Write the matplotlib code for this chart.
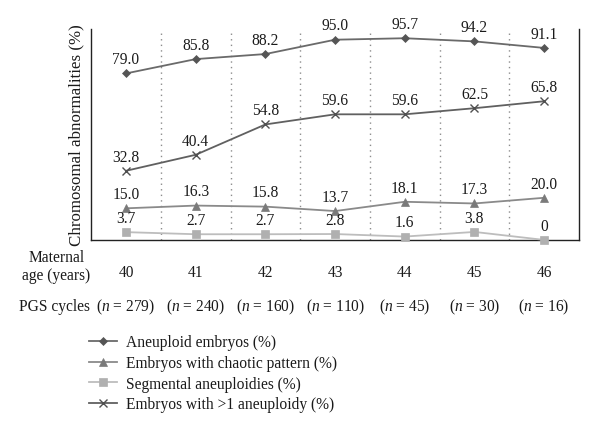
import matplotlib
matplotlib.use("Agg")
import matplotlib.pyplot as plt
from matplotlib.lines import Line2D

plt.rcParams['font.family'] = ['Liberation Serif', 'DejaVu Serif']
plt.rcParams['mathtext.fontset'] = 'custom'
plt.rcParams['mathtext.it'] = 'Liberation Serif:italic'
plt.rcParams['mathtext.rm'] = 'Liberation Serif'

ages = [40, 41, 42, 43, 44, 45, 46]
cycles = [279, 240, 160, 110, 45, 30, 16]
aneuploid = [79.0, 85.8, 88.2, 95.0, 95.7, 94.2, 91.1]
chaotic = [15.0, 16.3, 15.8, 13.7, 18.1, 17.3, 20.0]
segmental = [3.7, 2.7, 2.7, 2.8, 1.6, 3.8, 0.0]
multi = [32.8, 40.4, 54.8, 59.6, 59.6, 62.5, 65.8]
seg_labels = ["3.7", "2.7", "2.7", "2.8", "1.6", "3.8", "0"]

series = [
    ("Aneuploid embryos (%)", aneuploid, "#6a6a6a", "#555555", "D", 4, None),
    ("Embryos with chaotic pattern (%)", chaotic, "#8a8a8a", "#7a7a7a", "^", 6, None),
    ("Segmental aneuploidies (%)", segmental, "#bdbdbd", "#b0b0b0", "s", 5.5, seg_labels),
    ("Embryos with >1 aneuploidy (%)", multi, "#606060", "#505050", "x", 6, None),
]

FS = 11.2
fig = plt.figure(figsize=(6, 4.31), dpi=100)
ax = fig.add_axes([0.152, 0.441, 0.813, 0.489])
ax.set_xlim(39.5, 46.5)
ax.set_ylim(0, 100)

for xv in [40.5, 41.5, 42.5, 43.5, 44.5, 45.5]:
    ax.axvline(xv, color="#8c8c8c", linestyle=(0, (1, 3)), linewidth=1.0, zorder=0)

handles = []
for name, vals, lc, mc, mk, ms, labs in series:
    ax.plot(ages, vals, color=lc, linewidth=1.3, marker=mk, markersize=ms,
            markerfacecolor=mc, markeredgecolor=mc, markeredgewidth=1.0 if mk == "x" else 0.5,
            clip_on=False, zorder=3)
    for i, (x, v) in enumerate(zip(ages, vals)):
        txt = labs[i] if labs else f"{v:.1f}"
        ax.annotate(txt, (x, v), xytext=(0, 4.5), textcoords="offset points",
                    ha="center", va="bottom", fontsize=FS, color="#1a1a1a")
    handles.append(Line2D([], [], color=lc, linewidth=1.3, marker=mk, markersize=ms,
                          markerfacecolor=mc, markeredgecolor=mc,
                          markeredgewidth=1.0 if mk == "x" else 0.5, label=name))

for s in ["left", "right", "bottom"]:
    ax.spines[s].set_color("#222222")
    ax.spines[s].set_linewidth(1.0)
ax.spines["top"].set_visible(False)

ax.set_yticks([])
ax.set_xticks(ages)
ax.set_xticklabels([str(a) for a in ages], fontsize=FS, color="#1a1a1a")
ax.tick_params(axis="x", length=0, pad=17)
ax.set_ylabel("Chromosomal abnormalities (%)", fontsize=12.2, color="#1a1a1a", labelpad=5)

ax.text(39.0, -12.5, "Maternal\nage (years)", ha="center", va="center",
        fontsize=FS, color="#1a1a1a", transform=ax.transData, linespacing=1.2, clip_on=False)

for x, n in zip(ages, cycles):
    ax.text(x, -31.5, rf"($n$ = {n})", ha="center", va="center", fontsize=FS,
            color="#1a1a1a", clip_on=False)
ax.text(39.5 - 0.02, -31.5, "PGS cycles", ha="right", va="center", fontsize=FS,
        color="#1a1a1a", clip_on=False)

fig.legend(handles=handles, loc="upper left", bbox_to_anchor=(0.148, 0.222),
           frameon=False, fontsize=FS, handlelength=1.8, handletextpad=0.6,
           labelspacing=0.3, borderaxespad=0, borderpad=0, labelcolor="#1a1a1a")

fig.savefig("out.png", dpi=100)
